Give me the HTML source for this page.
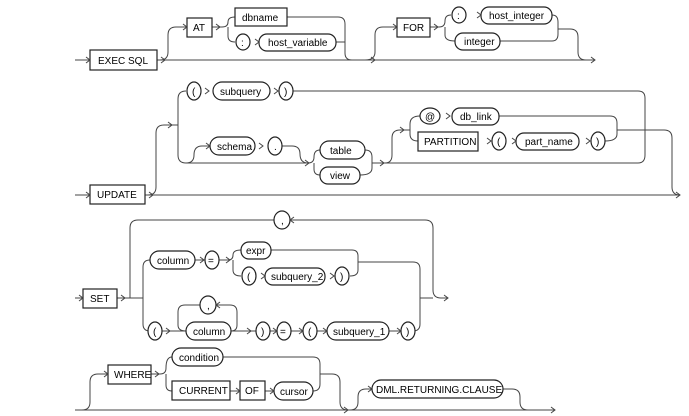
<!DOCTYPE html>
<html><head><meta charset="utf-8"><style>
html,body{margin:0;padding:0;background:#fff;}
svg{display:block;}
text{font-family:"Liberation Sans",sans-serif;font-size:10px;fill:#000;}
.l{fill:none;stroke:#444;stroke-width:1;}
.n{fill:#fff;stroke:#222;stroke-width:1.2;}
</style></head><body>
<svg width="689" height="416" viewBox="0 0 689 416" xmlns="http://www.w3.org/2000/svg">
<!-- Row 1 -->
<path class="l" d="M75 60 H595"/>
<path class="l" d="M157 60 H160 Q168 60 168 52 V35 Q168 27 176 27 H187"/>
<path class="l" d="M212 27 H222 Q228 27 228 22 Q228 17 235 17 M228 27 V36 Q228 42 235 42"/>
<path class="l" d="M287 17 H338 Q345 17 345 24 V53 Q345 60 352 60"/>
<path class="l" d="M336 42 H345"/>
<path class="l" d="M365 60 Q375 60 375 52 V35 Q375 27 383 27 H397"/>
<path class="l" d="M430 27 H439 Q445 27 445 21 Q445 15 451 15 M445 27 V35 Q445 41 455 41"/>
<path class="l" d="M552 15 Q558 15 558 22 V34 Q558 41 552 41 H500 M558 29 H570 Q578 29 578 37 V52 Q578 60 586 60"/>
<rect class="n" x="90" y="50" width="67" height="20"/><text x="98" y="64">EXEC SQL</text>
<rect class="n" x="187" y="18" width="25" height="19"/><text x="193" y="31">AT</text>
<rect class="n" x="235" y="8" width="52" height="18"/><text x="242" y="21">dbname</text>
<ellipse class="n" cx="243" cy="42" rx="7" ry="8"/><text x="241" y="46">:</text>
<rect class="n" x="259" y="34" width="77" height="17" rx="8"/><text x="268" y="46">host_variable</text>
<rect class="n" x="397" y="18" width="33" height="19"/><text x="403" y="31">FOR</text>
<ellipse class="n" cx="459" cy="15" rx="7" ry="8"/><text x="457" y="19">:</text>
<rect class="n" x="481" y="7" width="71" height="17" rx="8"/><text x="489" y="19">host_integer</text>
<rect class="n" x="455" y="33" width="45" height="17" rx="8"/><text x="464" y="45">integer</text>
<!-- Row 2 -->
<path class="l" d="M75 195 H680"/>
<path class="l" d="M145 195 H148 Q156 195 156 187 V133 Q156 125 164 125 H178"/>
<path class="l" d="M186 91 Q178 91 178 99 V155 Q178 163 186 163 H305"/>
<path class="l" d="M186 163 Q194 163 194 155 Q194 146 202 146 H210 M282 146 H292 Q300 146 300 154 Q300 163 308 163"/>
<path class="l" d="M293 91 H638 Q645 91 645 98 V155 Q645 163 638 163 H385"/>
<path class="l" d="M305 163 H308 Q314 163 314 157 Q314 150 320 150 M314 163 V169 Q314 175 320 175"/>
<path class="l" d="M365 150 Q372 150 372 157 V168 Q372 175 360 175 M372 163 H385"/>
<path class="l" d="M385 163 Q392 163 392 155 V138 Q392 130 400 130 H410"/>
<path class="l" d="M420 116 Q410 116 410 124 V134 Q410 141 418 141"/>
<path class="l" d="M499 116 H610 Q617 116 617 123 V134 Q617 141 605 141 M617 130 H645"/>
<path class="l" d="M645 130 H664 Q672 130 672 138 V187 Q672 195 680 195"/>
<rect class="n" x="90" y="185" width="55" height="19"/><text x="97" y="198">UPDATE</text>
<ellipse class="n" cx="194" cy="91" rx="7" ry="9"/><text x="192" y="95">(</text>
<rect class="n" x="213" y="82" width="57" height="18" rx="9"/><text x="220" y="95">subquery</text>
<ellipse class="n" cx="286" cy="91" rx="7" ry="9"/><text x="284" y="95">)</text>
<rect class="n" x="210" y="137" width="45" height="18" rx="9"/><text x="217" y="150">schema</text>
<ellipse class="n" cx="275" cy="146" rx="7" ry="9"/><text x="274" y="150">.</text>
<rect class="n" x="320" y="141" width="45" height="18" rx="9"/><text x="330" y="154">table</text>
<rect class="n" x="320" y="167" width="40" height="17" rx="8"/><text x="330" y="179">view</text>
<ellipse class="n" cx="430" cy="116" rx="10" ry="8"/><text x="425" y="120">@</text>
<rect class="n" x="452" y="108" width="47" height="17" rx="8"/><text x="460" y="120">db_link</text>
<rect class="n" x="418" y="132" width="60" height="19"/><text x="424" y="145">PARTITION</text>
<ellipse class="n" cx="499" cy="141" rx="7" ry="9"/><text x="497" y="145">(</text>
<rect class="n" x="516" y="133" width="63" height="17" rx="8"/><text x="525" y="145">part_name</text>
<ellipse class="n" cx="598" cy="141" rx="7" ry="9"/><text x="596" y="145">)</text>
<!-- Row 3 -->
<path class="l" d="M75 298 H83 M117 298 H143"/>
<path class="l" d="M130 298 V228 Q130 220 138 220 H425 Q433 220 433 228 V290 Q433 298 441 298 H448 M420 298 H433"/>
<path class="l" d="M150 260 Q143 260 143 267 V324 Q143 331 150 331"/>
<path class="l" d="M195 260 H220 M220 260 H228 Q233 260 233 255 Q233 250 241 250 M233 260 V270 Q233 276 241 276"/>
<path class="l" d="M271 250 H352 Q358 250 358 256 V270 Q358 276 350 276 M358 262 H413 Q420 262 420 269 V324 Q420 331 413 331"/>
<path class="l" d="M162 331 H186 M231 331 Q237 331 237 325 V312 Q237 305 230 305 H216 M200 305 H185 Q178 305 178 312 V325 Q178 331 186 331 M231 331 H410"/>
<rect class="n" x="83" y="289" width="34" height="19"/><text x="90" y="302">SET</text>
<ellipse class="n" cx="282" cy="220" rx="8" ry="9"/><text x="281" y="224">,</text>
<rect class="n" x="150" y="251" width="45" height="18" rx="9"/><text x="157" y="264">column</text>
<ellipse class="n" cx="212" cy="260" rx="7" ry="9"/><text x="208" y="264">=</text>
<rect class="n" x="241" y="242" width="30" height="17" rx="8"/><text x="246" y="254">expr</text>
<ellipse class="n" cx="249" cy="276" rx="7" ry="9"/><text x="247" y="280">(</text>
<rect class="n" x="265" y="268" width="60" height="17" rx="8"/><text x="271" y="280">subquery_2</text>
<ellipse class="n" cx="342" cy="276" rx="7" ry="9"/><text x="340" y="280">)</text>
<ellipse class="n" cx="155" cy="331" rx="7" ry="9"/><text x="153" y="335">(</text>
<ellipse class="n" cx="208" cy="305" rx="8" ry="9"/><text x="207" y="309">,</text>
<rect class="n" x="186" y="322" width="45" height="18" rx="9"/><text x="193" y="335">column</text>
<ellipse class="n" cx="263" cy="331" rx="7" ry="9"/><text x="261" y="335">)</text>
<ellipse class="n" cx="284" cy="331" rx="7" ry="9"/><text x="280" y="335">=</text>
<ellipse class="n" cx="310" cy="331" rx="7" ry="9"/><text x="308" y="335">(</text>
<rect class="n" x="327" y="322" width="62" height="18" rx="9"/><text x="333" y="335">subquery_1</text>
<ellipse class="n" cx="408" cy="331" rx="7" ry="9"/><text x="406" y="335">)</text>
<!-- Row 4 -->
<path class="l" d="M75 410 H555"/>
<path class="l" d="M82 410 Q90 410 90 402 V382 Q90 374 98 374 H108 M151 374 H160 Q166 374 166 368 Q166 357 172 357 M166 374 V385 Q166 391 172 391"/>
<path class="l" d="M223 357 H313 Q320 357 320 364 V384 Q320 391 313 391 M320 374 H332 Q340 374 340 382 V402 Q340 410 348 410"/>
<path class="l" d="M350 410 Q358 410 358 402 V397 Q358 389 366 389 H372 M503 389 H512 Q520 389 520 397 V402 Q520 410 528 410"/>
<path class="l" d="M230 391 H240 M265 391 H274"/>
<rect class="n" x="108" y="365" width="43" height="19"/><text x="114" y="378">WHERE</text>
<rect class="n" x="172" y="348" width="51" height="18" rx="9"/><text x="179" y="361">condition</text>
<rect class="n" x="172" y="381" width="58" height="19"/><text x="179" y="394">CURRENT</text>
<rect class="n" x="240" y="381" width="25" height="19"/><text x="245" y="394">OF</text>
<rect class="n" x="274" y="382" width="39" height="18" rx="9"/><text x="280" y="395">cursor</text>
<rect class="n" x="372" y="380" width="131" height="18" rx="9"/><text x="376" y="393">DML.RETURNING.CLAUSE</text>
<!-- arrowheads -->
<path class="l" d="M86 57 L90 60 L86 63 M161 57 L165 60 L161 63 M183 24 L187 27 L183 30 M216 24 L220 27 L216 30 M255 39 L259 42 L255 45 M371 57 L375 60 L371 63 M393 24 L397 27 L393 30 M434 24 L438 27 L434 30 M477 12 L481 15 L477 18 M591 57 L595 60 L591 63"/>
<path class="l" d="M86 192 L90 195 L86 198 M149 192 L153 195 L149 198 M168 122 L172 125 L168 128 M205 88 L209 91 L205 94 M274 88 L278 91 L274 94 M206 143 L210 146 L206 149 M259 143 L263 146 L259 149 M305 160 L309 163 L305 166 M380 160 L384 163 L380 166 M400 127 L404 130 L400 133 M446 113 L450 116 L446 119 M487 138 L491 141 L487 144 M512 138 L516 141 L512 144 M586 138 L590 141 L586 144 M676 192 L680 195 L676 198"/>
<path class="l" d="M79 295 L83 298 L79 301 M121 295 L125 298 L121 301 M294 217 L290 220 L294 223 M200 257 L204 260 L200 263 M226 257 L230 260 L226 263 M261 273 L265 276 L261 279 M330 273 L334 276 L330 279 M166 328 L170 331 L166 334 M220 302 L216 305 L220 308 M247 328 L251 331 L247 334 M273 328 L277 331 L273 334 M299 328 L303 331 L299 334 M323 328 L327 331 L323 334 M397 328 L401 331 L397 334 M444 295 L448 298 L444 301"/>
<path class="l" d="M104 371 L108 374 L104 377 M155 371 L159 374 L155 377 M236 388 L240 391 L236 394 M270 388 L274 391 L270 394 M344 407 L348 410 L344 413 M368 386 L372 389 L368 392 M551 407 L555 410 L551 413"/>
</svg>
</body></html>
